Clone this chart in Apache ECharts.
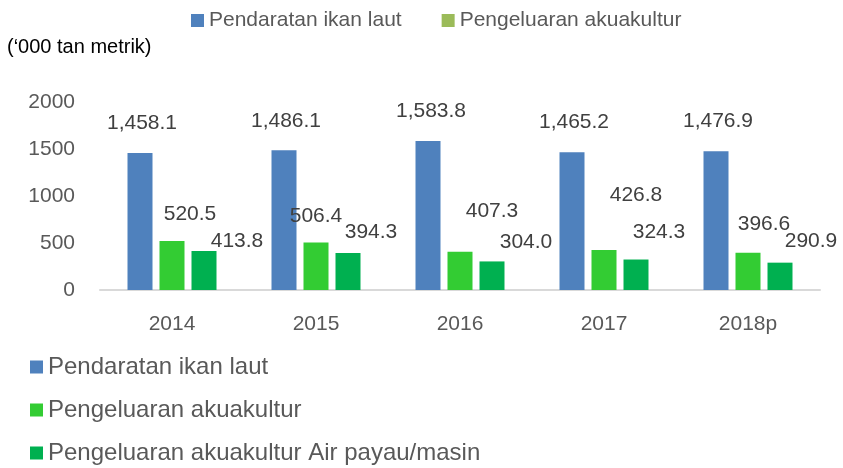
<!DOCTYPE html>
<html>
<head>
<meta charset="utf-8">
<script src="https://cdn.jsdelivr.net/npm/echarts@6/dist/echarts.min.js"></script>
<style>html,body{margin:0;padding:0;background:#fff}#c{width:843px;height:468px}</style>
</head>
<body>
<div id="c"></div>
<script>
var categories = ['2014', '2015', '2016', '2017', '2018p'];
var seriesNames = ['Pendaratan ikan laut', 'Pengeluaran akuakultur', 'Pengeluaran akuakultur Air payau/masin'];
var marine = [1458.1, 1486.1, 1583.8, 1465.2, 1476.9];
var aquaculture = [520.5, 506.4, 407.3, 426.8, 396.6];
var brackish = [413.8, 394.3, 304.0, 324.3, 290.9];
var yTicks = [0, 500, 1000, 1500, 2000];

// label placement (layout only)
var marineOffsets = [[2,-14],[2,-14],[3,-14],[2,-15],[2,-14]];
var aquaOffsets = [[18,-11],[0,-11],[32,-25],[32,-39],[16,-13]];
var brackishOffsets = [[33,6],[23,-5],[34,-4],[23,-12],[31,-6]];
var colors = ['#4F81BD', '#33CC33', '#00B050'];

function fmt(v) {
  return v.toLocaleString('en-US', {minimumFractionDigits: 1, maximumFractionDigits: 1});
}
function build(values, offsets) {
  return values.map(function (v, i) {
    return {value: v, label: {offset: offsets[i]}};
  });
}
var labelBase = {
  show: true, position: 'top', distance: 5,
  fontFamily: 'Liberation Sans', fontSize: 21, color: '#404040',
  formatter: function (p) { return fmt(p.value); }
};

var chart = echarts.init(document.getElementById('c'), null, {renderer: 'canvas'});
chart.setOption({
  animation: false,
  color: colors,
  title: {
    text: '(\u2018000 tan metrik)', left: 7, top: 37, padding: 0,
    textStyle: {fontFamily: 'Liberation Sans', fontSize: 20, fontWeight: 'normal', color: '#000'}
  },
  legend: [{
    left: 191, top: 10, orient: 'horizontal', padding: 0,
    itemWidth: 13, itemHeight: 13, itemGap: 40, icon: 'rect',
    textStyle: {fontFamily: 'Liberation Sans', fontSize: 21, color: '#595959'},
    data: [seriesNames[0], {name: seriesNames[1], itemStyle: {color: '#9BBB59'}}]
  }, {
    left: 30, top: 355, bottom: 0, orient: 'vertical', padding: 0,
    itemWidth: 13, itemHeight: 13, itemGap: 19, icon: 'rect',
    textStyle: {fontFamily: 'Liberation Sans', fontSize: 24, lineHeight: 24, color: '#595959'},
    data: seriesNames
  }],
  grid: {left: 100, right: 23, top: 102, bottom: 178, containLabel: false},
  xAxis: {
    type: 'category', data: categories,
    axisLine: {lineStyle: {color: '#D9D9D9', width: 2}},
    axisTick: {show: false},
    axisLabel: {fontFamily: 'Liberation Sans', fontSize: 21, color: '#595959', margin: 24}
  },
  yAxis: {
    type: 'value', min: yTicks[0], max: yTicks[yTicks.length - 1], interval: 500,
    axisLine: {show: false}, axisTick: {show: false}, splitLine: {show: false},
    axisLabel: {fontFamily: 'Liberation Sans', fontSize: 21, color: '#595959', margin: 25,
      formatter: function (v) { return String(v); }}
  },
  series: [
    {name: seriesNames[0], type: 'bar', barWidth: 25, barGap: '28%', data: build(marine, marineOffsets), label: labelBase, itemStyle: {color: colors[0]}},
    {name: seriesNames[1], type: 'bar', barWidth: 25, barGap: '28%', data: build(aquaculture, aquaOffsets), label: labelBase, itemStyle: {color: colors[1]}},
    {name: seriesNames[2], type: 'bar', barWidth: 25, barGap: '28%', data: build(brackish, brackishOffsets), label: labelBase, itemStyle: {color: colors[2]}}
  ]
});
</script>
</body>
</html>
